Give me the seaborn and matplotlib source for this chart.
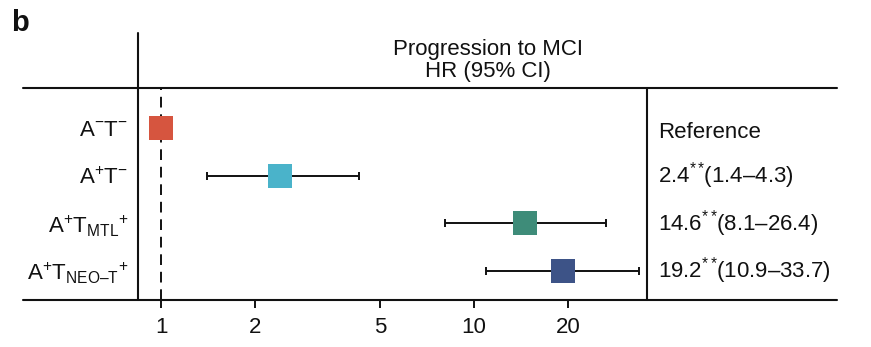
import numpy as np
import pandas as pd
import matplotlib
matplotlib.use("Agg")
import matplotlib.pyplot as plt
from matplotlib.lines import Line2D
import seaborn as sns

# ---- data ----
groups = ["A$^{-}$T$^{-}$", "A$^{+}$T$^{-}$", "A$^{+}$T$_{\\mathrm{MTL}}$$^{+}$", "A$^{+}$T$_{\\mathrm{NEO\u2013T}}$$^{+}$"]
hr = [1.0, 2.4, 14.6, 19.2]
ci_low = [np.nan, 1.4, 8.1, 10.9]
ci_high = [np.nan, 4.3, 26.4, 33.7]
right_text = ["Reference", "2.4$^{**}\\!$(1.4\u20134.3)", "14.6$^{**}\\!$(8.1\u201326.4)", "19.2$^{**}\\!$(10.9\u201333.7)"]
colors = ["#d6553f", "#4ab3ca", "#3e8c79", "#3d5387"]
xticks = [1, 2, 5, 10, 20]
xticklabels = ["1", "2", "5", "10", "20"]
title_lines = ["Progression to MCI", "HR (95% CI)"]

sns.set_theme(style="white")
plt.rcParams["font.family"] = ["Liberation Sans", "DejaVu Sans"]
plt.rcParams["mathtext.fontset"] = "custom"
plt.rcParams["mathtext.rm"] = "Liberation Sans"
plt.rcParams["mathtext.it"] = "Liberation Sans"
plt.rcParams["mathtext.bf"] = "Liberation Sans:bold"

FS = 16
W, H = 871, 347
fig = plt.figure(figsize=(W / 100, H / 100), dpi=100)
L, R, T, B = 138, 647, 88, 300
ax = fig.add_axes([L / W, 1 - B / H, (R - L) / W, (B - T) / H])

df = pd.DataFrame({"group": groups, "hr": hr, "lo": ci_low, "hi": ci_high,
                   "y": np.arange(len(groups))})

# error bars
for i, row in df.iterrows():
    if not np.isnan(row["lo"]):
        ax.errorbar(row["hr"], row["y"],
                    xerr=[[row["hr"] - row["lo"]], [row["hi"] - row["hr"]]],
                    fmt="none", ecolor="#111111", elinewidth=1.4, capsize=3.2,
                    capthick=1.4, zorder=2)

sns.scatterplot(data=df, x="hr", y="y", hue="group", palette=colors, marker="s",
                s=300, edgecolor="none", legend=False, ax=ax, zorder=3)

ax.axvline(1, color="#111111", lw=1.4, ls=(0, (5.5, 3.5)), zorder=1)

ax.set_xscale("log")
ax.set_xlim(0.844, 35.7)
ax.set_ylim(3.61, -0.84)
ax.set_xticks(xticks)
ax.set_xticklabels(xticklabels)
ax.minorticks_off()
ax.set_yticks(df["y"])
ax.set_yticklabels(groups)
ax.tick_params(axis="y", length=0, pad=7, labelsize=FS, colors="#111111")
ax.tick_params(axis="x", bottom=True, direction="out", length=6, width=1.4,
               pad=6, labelsize=FS, colors="#111111")
ax.set_xlabel("")
ax.set_ylabel("")
for s in ax.spines.values():
    s.set_visible(False)

# right-hand text
tr = ax.get_yaxis_transform()
offs = [0.09, 0.0, 0.0, 0.0]
for i, t in enumerate(right_text):
    ax.text((658 - L) / (R - L), i + offs[i], t, transform=tr, ha="left", va="center",
            fontsize=FS, color="#111111")

# frame lines
def fl(x0, y0, x1, y1):
    fig.add_artist(Line2D([x0 / W, x1 / W], [1 - y0 / H, 1 - y1 / H],
                          color="#111111", lw=1.5, transform=fig.transFigure))

fl(23, T, 837, T)
fl(23, B, 837, B)
fl(L, 33, L, B)
fl(R, T, R, B)

fig.text(488 / W, 1 - 49 / H, title_lines[0], ha="center", va="center",
         fontsize=FS, color="#111111")
fig.text(488 / W, 1 - 72 / H, title_lines[1], ha="center", va="center",
         fontsize=FS, color="#111111")
fig.text(11 / W, 1 - 23 / H, "b", ha="left", va="center", fontsize=21,
         fontweight="bold", color="#111111")

fig.savefig("out.png", dpi=100)
